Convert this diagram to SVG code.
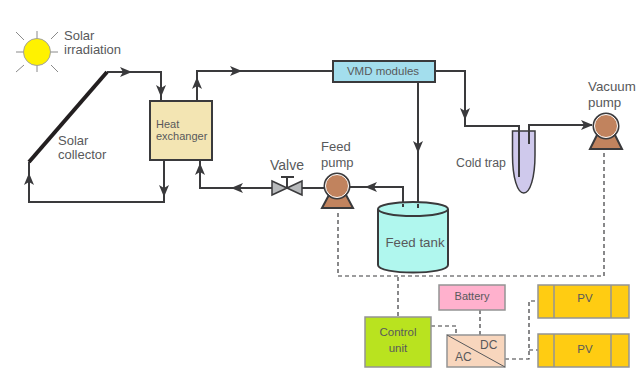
<svg xmlns="http://www.w3.org/2000/svg" width="637" height="368" viewBox="0 0 637 368">
<style>
text{font-family:"Liberation Sans",Arial,sans-serif;font-size:13px;fill:#58595b}
.m{text-anchor:middle}
.s{font-size:11.500px}
.pipe{fill:none;stroke:#3a3a3c;stroke-width:2}
.dash{fill:none;stroke:#3a3a3c;stroke-width:1.200;stroke-dasharray:4 3}
.box{stroke:#3a3a3c;stroke-width:2}
.g{stroke:#949494;stroke-width:1.500}
.ray{stroke:#8a8a8a;stroke-width:1;fill:none}
.ah{fill:#3a3a3c}
.pump{fill:#c1835e;stroke:#3a3a3c;stroke-width:2}
.ring{fill:#c1835e;stroke:#fff;stroke-width:1}
</style>
<defs>
<path id="a" class="ah" d="M7 0L-5-5L-2 0L-5 5Z"/>
</defs>
<g id="connectors">
<path class="pipe" d="M107 72H161V101"/>
<path class="pipe" d="M164 160V202H29V162"/>
<path class="pipe" d="M197 101V71H333"/>
<path class="pipe" d="M200 160V188H272"/>
<path class="pipe" d="M302 188H324"/>
<path class="pipe" d="M350 187H403V207"/>
<path class="pipe" d="M418 82V207"/>
<path class="pipe" d="M435 71H465V126H519V177"/>
<path class="pipe" d="M529 144V125H592"/>
<path class="dash" d="M604 153V276H338V212"/>
<path class="dash" d="M398 277V316"/>
<path class="dash" d="M431 326H456V335"/>
<path class="dash" d="M480 310V335"/>
<path class="dash" d="M505 359H529V301H538"/>
<path class="dash" d="M529 350H538"/>
<use href="#a" transform="translate(125 72)"/>
<use href="#a" transform="translate(161 90) rotate(90)"/>
<use href="#a" transform="translate(164 190) rotate(90)"/>
<use href="#a" transform="translate(29 180) rotate(-90)"/>
<use href="#a" transform="translate(197 84) rotate(-90)"/>
<use href="#a" transform="translate(235 71)"/>
<use href="#a" transform="translate(200 170) rotate(-90)"/>
<use href="#a" transform="translate(238 188) rotate(180)"/>
<use href="#a" transform="translate(372 187) rotate(180)"/>
<use href="#a" transform="translate(418 146) rotate(90)"/>
<use href="#a" transform="translate(465 113) rotate(90)"/>
<use href="#a" transform="translate(586 125)"/>
</g>
<g id="sun">
<path class="ray" d="M37 31V41M37 61V72M16 52H26M48 52H58M16 32L24 40M58 32L51 39M16 72L24 65M58 72L51 65"/>
<circle cx="37" cy="52" r="13.500" fill="#fff200" stroke="#a0a0a0" stroke-width="1"/>
<text x="64" y="40">Solar</text>
<text x="64" y="54">irradiation</text>
</g>
<g id="solar-collector">
<path d="M29 162L107 72" stroke="#231f20" stroke-width="4" fill="none"/>
<text x="58" y="145">Solar</text>
<text x="58" y="159">collector</text>
</g>
<g id="heat-exchanger">
<rect class="box" x="150" y="101" width="62" height="59" fill="#f3e5b3"/>
<text x="156" y="128" style="font-size:11px">Heat</text>
<text x="156" y="140" style="font-size:11px">exchanger</text>
</g>
<g id="vmd-modules">
<rect class="box" x="333" y="61" width="102" height="21" fill="#a3deed"/>
<text class="s m" x="383" y="75">VMD modules</text>
</g>
<g id="valve">
<path d="M272 181L302 195V181L272 195Z" fill="#b8babc" stroke="#3a3a3c" stroke-width="1.500"/>
<path d="M287 188V177M281 177H294" stroke="#3a3a3c" stroke-width="2" fill="none"/>
<text x="270" y="170" style="font-size:14px">Valve</text>
</g>
<g id="feed-pump">
<path class="pump" d="M330 193L322 208H353L345 193Z"/>
<circle cx="337" cy="186" r="13.500" fill="#3a3a3c"/>
<circle class="ring" cx="337" cy="186" r="11.500"/>
<text x="321" y="151">Feed</text>
<text x="321" y="167">pump</text>
</g>
<g id="feed-tank">
<path class="box" d="M378 209V265C378 275 448 275 448 265V209" fill="#b0f7ee"/>
<ellipse class="box" cx="413" cy="209" rx="35" ry="7" fill="#b0f7ee"/>
<path class="pipe" d="M403 204V207M418 204V208"/>
<text class="m" x="415" y="247" style="font-size:13.300px">Feed tank</text>
</g>
<g id="cold-trap">
<path d="M512.500 131H535V155C535 178 530 193 523.750 193C517.500 193 512.500 178 512.500 155Z" fill="#cfc9ec" stroke="#3a3a3c" stroke-width="1.500"/>
<path class="pipe" d="M519 125V177M529 125V144"/>
<text x="456" y="167" style="font-size:12.300px">Cold trap</text>
</g>
<g id="vacuum-pump">
<path class="pump" d="M598 133L590 149H622L614 133Z"/>
<circle cx="606" cy="126" r="13.500" fill="#3a3a3c"/>
<circle class="ring" cx="606" cy="126" r="11.500"/>
<text x="588" y="91" style="font-size:13.300px">Vacuum</text>
<text x="588" y="107" style="font-size:13.300px">pump</text>
</g>
<g id="control-unit">
<rect class="g" x="365" y="317" width="66" height="50" fill="#b9e31f"/>
<text class="s m" x="398" y="336">Control</text>
<text class="s m" x="398" y="352">unit</text>
</g>
<g id="battery">
<rect class="g" x="439" y="285" width="66" height="25" fill="#ffb1cd"/>
<text class="s m" x="472" y="300" style="font-size:11px">Battery</text>
</g>
<g id="ac-dc">
<rect class="g" x="447" y="335" width="58" height="32" fill="#f8d6bd"/>
<path d="M447 335L505 367" stroke="#58595b" stroke-width="1"/>
<text x="480" y="349" style="font-size:12px">DC</text>
<text x="455" y="361" style="font-size:12px">AC</text>
</g>
<g id="pv-1">
<rect class="g" x="538" y="285" width="91" height="33" fill="#ffcc12"/>
<path class="g" d="M554 285V318M611 285V318"/>
<text class="s m" x="585" y="302">PV</text>
</g>
<g id="pv-2">
<rect class="g" x="538" y="334" width="91" height="33" fill="#ffcc12"/>
<path class="g" d="M554 334V367M611 334V367"/>
<text class="s m" x="585" y="353">PV</text>
</g>
</svg>
